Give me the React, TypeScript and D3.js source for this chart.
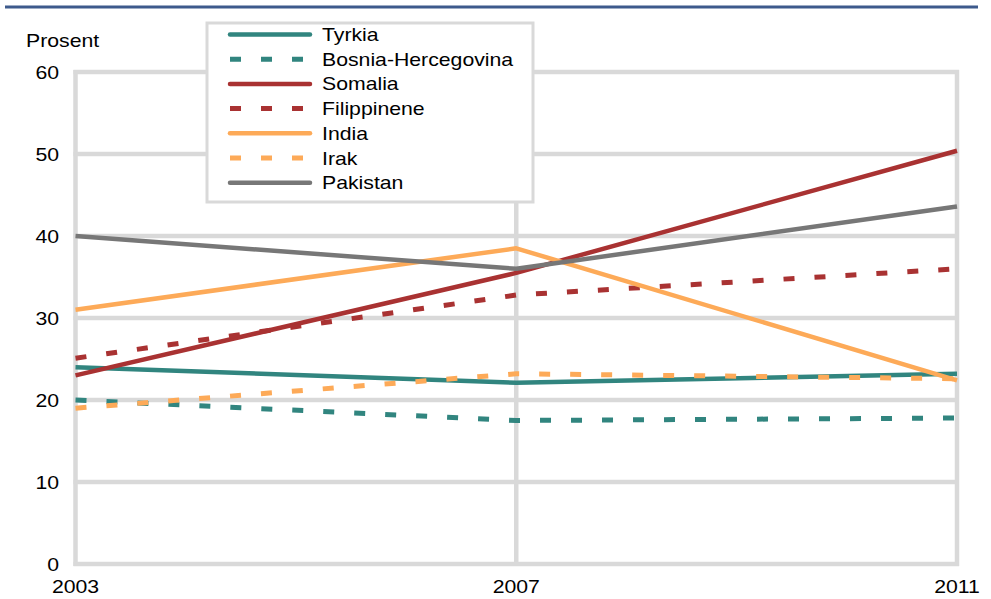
import React from "react";
import * as d3 from "d3";

const years = [2003, 2007, 2011];
const yTicks = [0, 10, 20, 30, 40, 50, 60];
const seriesNames = ["Tyrkia", "Bosnia-Hercegovina", "Somalia", "Filippinene", "India", "Irak", "Pakistan"];
const tyrkia = [24, 22.1, 23.2];
const bosnia = [20, 17.5, 17.8];
const somalia = [23, 35.5, 50.4];
const filippinene = [25.1, 32.8, 36];
const india = [31, 38.5, 22.4];
const irak = [19, 23.2, 22.6];
const pakistan = [40, 36, 43.6];
const yAxisLabel = "Prosent";

const TEAL = "#31857F";
const RED = "#A93232";
const ORANGE = "#FDAA58";
const GRAY = "#777777";
const GRID = "#D9D9D9";

const seriesValues = [tyrkia, bosnia, somalia, filippinene, india, irak, pakistan];
const seriesColors = [TEAL, TEAL, RED, RED, ORANGE, ORANGE, GRAY];
const seriesDashed = [false, true, false, true, false, true, false];

const FONT = "'Liberation Sans', Arial, sans-serif";
const FS = 18;
const SX = 1.18;

function T({ x, y, anchor = "start", children }: { x: number; y: number; anchor?: string; children: React.ReactNode }) {
  return (
    <g transform={`translate(${x},${y}) scale(${SX},1)`}>
      <text x={0} y={0} textAnchor={anchor as any} fontFamily={FONT} fontSize={FS} fill="#000">
        {children}
      </text>
    </g>
  );
}

export default function App() {
  const W = 991;
  const H = 599;
  const x = d3.scaleLinear().domain([2003, 2011]).range([75.5, 957]);
  const y = d3.scaleLinear().domain([0, 60]).range([564, 72]);
  const line = d3
    .line<number>()
    .x((_, i) => x(years[i]))
    .y((d) => y(d));

  const legX = 207;
  const legY = 23;
  const legW = 326;
  const legH = 179;
  const rowY0 = 34.5;
  const rowStep = 24.7;

  return (
    <svg width={W} height={H} style={{ position: "absolute", left: 0, top: 0, background: "#fff" }}>
      <rect x={0} y={0} width={W} height={H} fill="#fff" />
      <line x1={5} x2={978} y1={7} y2={7} stroke="#3D5A8C" strokeWidth={3} />

      {/* grid */}
      {yTicks.map((t) => (
        <line key={"h" + t} x1={x(2003) - 2} x2={x(2011) + 2} y1={y(t)} y2={y(t)} stroke={GRID} strokeWidth={4.5} />
      ))}
      {years.map((yr) => (
        <line key={"v" + yr} x1={x(yr)} x2={x(yr)} y1={y(60) - 2} y2={y(0) + 2} stroke={GRID} strokeWidth={4.5} />
      ))}

      {/* y labels */}
      <T x={26} y={46.7}>{yAxisLabel}</T>
      {yTicks.map((t) => (
        <T key={"yl" + t} x={59} y={y(t) + 6.5} anchor="end">
          {t}
        </T>
      ))}
      {years.map((yr) => (
        <T key={"xl" + yr} x={x(yr)} y={593} anchor="middle">
          {yr}
        </T>
      ))}

      {/* series */}
      {seriesValues.map((vals, i) => (
        <path
          key={"s" + i}
          d={line(vals) || ""}
          fill="none"
          stroke={seriesColors[i]}
          strokeWidth={seriesDashed[i] ? 5 : 4.5}
          strokeDasharray={seriesDashed[i] ? "11 20" : undefined}
          strokeLinejoin="round"
        />
      ))}

      {/* legend */}
      <rect x={legX} y={legY} width={legW} height={legH} fill="#fff" stroke={GRID} strokeWidth={3} />
      {seriesNames.map((name, i) => {
        const ry = rowY0 + i * rowStep;
        return (
          <g key={"lg" + i}>
            {seriesDashed[i] ? (
              <line x1={230} x2={304} y1={ry} y2={ry} stroke={seriesColors[i]} strokeWidth={5} strokeDasharray="11 20" />
            ) : (
              <line x1={230} x2={310} y1={ry} y2={ry} stroke={seriesColors[i]} strokeWidth={4.5} strokeLinecap="round" />
            )}
            <T x={322} y={ry + 6.5}>{name}</T>
          </g>
        );
      })}
    </svg>
  );
}
